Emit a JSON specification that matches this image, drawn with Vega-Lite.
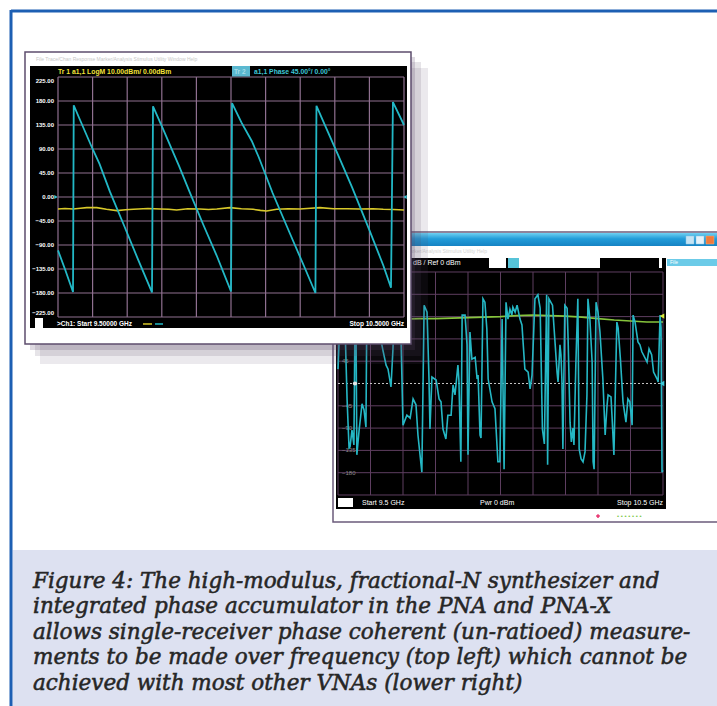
{
  "$schema": "https://vega.github.io/schema/vega-lite/v6.json",
  "width": 706,
  "height": 695,
  "autosize": "none",
  "padding": {"left": 11, "top": 11, "right": 0, "bottom": 0},
  "background": "white",
  "view": {"fill": "white", "stroke": null},
  "config": {"axis": {"disable": true}, "legend": {"disable": true}, "text": {"font": "Liberation Sans"}},
  "data": {"values": [{}]},
  "datasets": {
    "freqTicks": [{"f": 9.5}, {"f": 9.6}, {"f": 9.7}, {"f": 9.8}, {"f": 9.9}, {"f": 10.0}, {"f": 10.1}, {"f": 10.2}, {"f": 10.3}, {"f": 10.4}, {"f": 10.5}],
    "degTicks": [{"d": -225}, {"d": -180}, {"d": -135}, {"d": -90}, {"d": -45}, {"d": 0}, {"d": 45}, {"d": 90}, {"d": 135}, {"d": 180}, {"d": 225}],
    "phase": [
      {"f": 9.5, "d": -100}, {"f": 9.52, "d": -135}, {"f": 9.5434, "d": -178}, {"f": 9.5455, "d": 172},
      {"f": 9.56, "d": 150}, {"f": 9.6, "d": 90}, {"f": 9.62, "d": 62}, {"f": 9.65, "d": 10}, {"f": 9.69, "d": -52},
      {"f": 9.73, "d": -115}, {"f": 9.7717, "d": -179}, {"f": 9.7746, "d": 170}, {"f": 9.8, "d": 133},
      {"f": 9.85, "d": 58}, {"f": 9.88, "d": 10}, {"f": 9.92, "d": -52}, {"f": 9.96, "d": -112}, {"f": 10.0, "d": -177},
      {"f": 10.003, "d": 176}, {"f": 10.03, "d": 140}, {"f": 10.06, "d": 105}, {"f": 10.08, "d": 75}, {"f": 10.12, "d": 8},
      {"f": 10.17, "d": -68}, {"f": 10.21, "d": -128}, {"f": 10.244, "d": -180}, {"f": 10.247, "d": 171},
      {"f": 10.28, "d": 122}, {"f": 10.31, "d": 78}, {"f": 10.35, "d": 18}, {"f": 10.4, "d": -62}, {"f": 10.44, "d": -128},
      {"f": 10.4624, "d": -170}, {"f": 10.468, "d": 178}, {"f": 10.5, "d": 135}
    ],
    "logm": [
      {"f": 9.5, "d": -22.5}, {"f": 9.52, "d": -21.5}, {"f": 9.544, "d": -22.5}, {"f": 9.565, "d": -21}, {"f": 9.583, "d": -20},
      {"f": 9.612, "d": -20}, {"f": 9.64, "d": -23}, {"f": 9.67, "d": -25.6}, {"f": 9.695, "d": -24}, {"f": 9.718, "d": -23.1},
      {"f": 9.76, "d": -21.5}, {"f": 9.795, "d": -22.5}, {"f": 9.82, "d": -23}, {"f": 9.843, "d": -24.4}, {"f": 9.875, "d": -22},
      {"f": 9.91, "d": -22.5}, {"f": 9.935, "d": -23.5}, {"f": 9.959, "d": -22.5}, {"f": 9.997, "d": -20}, {"f": 10.03, "d": -22},
      {"f": 10.064, "d": -23.1}, {"f": 10.085, "d": -25}, {"f": 10.103, "d": -26.3}, {"f": 10.132, "d": -23.1}, {"f": 10.165, "d": -22},
      {"f": 10.199, "d": -22.5}, {"f": 10.23, "d": -21}, {"f": 10.257, "d": -20}, {"f": 10.296, "d": -21.9}, {"f": 10.335, "d": -22},
      {"f": 10.373, "d": -22.5}, {"f": 10.41, "d": -22}, {"f": 10.44, "d": -23.1}, {"f": 10.47, "d": -23.5}, {"f": 10.5, "d": -24.4}
    ],
    "noisy": [
      {"f": 9.5, "d": 29}, {"f": 9.506, "d": 128}, {"f": 9.512, "d": 168}, {"f": 9.522, "d": 108}, {"f": 9.528, "d": -33},
      {"f": 9.534, "d": -130}, {"f": 9.537, "d": -128}, {"f": 9.543, "d": -94}, {"f": 9.549, "d": -124}, {"f": 9.552, "d": 108},
      {"f": 9.555, "d": 158}, {"f": 9.558, "d": -144}, {"f": 9.565, "d": -94}, {"f": 9.574, "d": -41}, {"f": 9.58, "d": -53},
      {"f": 9.586, "d": -88}, {"f": 9.589, "d": 168}, {"f": 9.598, "d": 177}, {"f": 9.608, "d": 128}, {"f": 9.617, "d": 148},
      {"f": 9.629, "d": 98}, {"f": 9.638, "d": 68}, {"f": 9.648, "d": 37}, {"f": 9.654, "d": 29}, {"f": 9.663, "d": -7},
      {"f": 9.669, "d": 68}, {"f": 9.675, "d": 168}, {"f": 9.685, "d": 148}, {"f": 9.694, "d": 88}, {"f": 9.7, "d": -84},
      {"f": 9.712, "d": -64}, {"f": 9.722, "d": -70}, {"f": 9.731, "d": -31}, {"f": 9.74, "d": -43}, {"f": 9.746, "d": -104},
      {"f": 9.758, "d": -179}, {"f": 9.765, "d": 158}, {"f": 9.774, "d": 144}, {"f": 9.78, "d": 9}, {"f": 9.783, "d": -92},
      {"f": 9.789, "d": 13}, {"f": 9.802, "d": 7}, {"f": 9.811, "d": -31}, {"f": 9.817, "d": -37}, {"f": 9.823, "d": -92},
      {"f": 9.832, "d": -112}, {"f": 9.838, "d": -64}, {"f": 9.848, "d": -64}, {"f": 9.854, "d": -3}, {"f": 9.86, "d": -23},
      {"f": 9.869, "d": 37}, {"f": 9.872, "d": 7}, {"f": 9.878, "d": -158}, {"f": 9.882, "d": 138}, {"f": 9.891, "d": 138},
      {"f": 9.897, "d": 78}, {"f": 9.9, "d": -144}, {"f": 9.906, "d": 104}, {"f": 9.912, "d": 49}, {"f": 9.922, "d": 53},
      {"f": 9.928, "d": 9}, {"f": 9.931, "d": 17}, {"f": 9.937, "d": -104}, {"f": 9.94, "d": -110}, {"f": 9.946, "d": 171},
      {"f": 9.952, "d": 164}, {"f": 9.958, "d": 110}, {"f": 9.962, "d": 9}, {"f": 9.974, "d": -37}, {"f": 9.983, "d": -51},
      {"f": 9.992, "d": -158}, {"f": 9.998, "d": -158}, {"f": 10.005, "d": 130}, {"f": 10.011, "d": -173}, {"f": 10.017, "d": 164},
      {"f": 10.023, "d": 130}, {"f": 10.029, "d": 150}, {"f": 10.035, "d": 138}, {"f": 10.038, "d": 154}, {"f": 10.045, "d": 144},
      {"f": 10.051, "d": 158}, {"f": 10.06, "d": 130}, {"f": 10.066, "d": 118}, {"f": 10.075, "d": 29}, {"f": 10.085, "d": 23},
      {"f": 10.091, "d": -11}, {"f": 10.097, "d": 17}, {"f": 10.106, "d": 171}, {"f": 10.115, "d": 179}, {"f": 10.122, "d": 152},
      {"f": 10.129, "d": -92}, {"f": 10.135, "d": -122}, {"f": 10.142, "d": 179}, {"f": 10.145, "d": -164}, {"f": 10.149, "d": 171},
      {"f": 10.16, "d": 158}, {"f": 10.165, "d": 110}, {"f": 10.174, "d": 23}, {"f": 10.177, "d": 3}, {"f": 10.183, "d": 78},
      {"f": 10.186, "d": 58}, {"f": 10.189, "d": 7}, {"f": 10.192, "d": -132}, {"f": 10.198, "d": 158}, {"f": 10.205, "d": 152},
      {"f": 10.208, "d": 90}, {"f": 10.214, "d": -78}, {"f": 10.218, "d": -118}, {"f": 10.223, "d": -90}, {"f": 10.226, "d": -124},
      {"f": 10.232, "d": 43}, {"f": 10.238, "d": 171}, {"f": 10.242, "d": -132}, {"f": 10.248, "d": -152}, {"f": 10.254, "d": -158},
      {"f": 10.26, "d": -138}, {"f": 10.266, "d": -23}, {"f": 10.269, "d": 171}, {"f": 10.275, "d": 130}, {"f": 10.282, "d": 43},
      {"f": 10.285, "d": -158}, {"f": 10.288, "d": -173}, {"f": 10.294, "d": 164}, {"f": 10.3, "d": 144}, {"f": 10.306, "d": 104},
      {"f": 10.315, "d": 9}, {"f": 10.322, "d": -104}, {"f": 10.328, "d": -43}, {"f": 10.331, "d": -23}, {"f": 10.34, "d": -27},
      {"f": 10.343, "d": -64}, {"f": 10.349, "d": -144}, {"f": 10.358, "d": 124}, {"f": 10.362, "d": 112}, {"f": 10.369, "d": 49},
      {"f": 10.377, "d": -37}, {"f": 10.386, "d": -78}, {"f": 10.392, "d": -31}, {"f": 10.398, "d": -37}, {"f": 10.405, "d": -84},
      {"f": 10.408, "d": 138}, {"f": 10.414, "d": 124}, {"f": 10.423, "d": 84}, {"f": 10.429, "d": 78}, {"f": 10.435, "d": 64},
      {"f": 10.445, "d": 51}, {"f": 10.451, "d": 43}, {"f": 10.457, "d": 70}, {"f": 10.465, "d": 58}, {"f": 10.471, "d": 23},
      {"f": 10.482, "d": 9}, {"f": 10.485, "d": 3}, {"f": 10.491, "d": 138}, {"f": 10.494, "d": 112}, {"f": 10.497, "d": -179},
      {"f": 10.5, "d": -175}
    ],
    "green": [
      {"f": 9.5, "d": 126}, {"f": 9.55, "d": 127}, {"f": 9.6, "d": 128}, {"f": 9.65, "d": 129}, {"f": 9.7, "d": 130},
      {"f": 9.75, "d": 131}, {"f": 9.8, "d": 131}, {"f": 9.85, "d": 132}, {"f": 9.9, "d": 133}, {"f": 9.95, "d": 134},
      {"f": 10.0, "d": 135}, {"f": 10.05, "d": 137}, {"f": 10.1, "d": 138}, {"f": 10.15, "d": 137}, {"f": 10.2, "d": 136},
      {"f": 10.25, "d": 134}, {"f": 10.3, "d": 131}, {"f": 10.35, "d": 128}, {"f": 10.4, "d": 126}, {"f": 10.45, "d": 124},
      {"f": 10.5, "d": 124}
    ],
    "caption": [
      {"line": 1, "text": "Figure 4: The high-modulus, fractional-N synthesizer and\nintegrated phase accumulator in the PNA and PNA-X\nallows single-receiver phase coherent (un-ratioed) measure-\nments to be made over frequency (top left) which cannot be\nachieved with most other VNAs (lower right)"}
    ]
  },
  "resolve": {"scale": {"x": "independent", "y": "independent"}},
  "layer": [
    {
      "layer": [
        {"mark": {"type": "rect", "fill": "white", "stroke": "#6b5b7b", "strokeWidth": 1.5},
         "encoding": {"x": {"datum": 9.48462, "scale": {"domain": [8.493846, 10.666154], "nice": false, "zero": false}}, "x2": {"datum": 10.7},
                      "y": {"datum": 305.7, "scale": {"domain": [-650.785, 751.68], "nice": false, "zero": false}}, "y2": {"datum": -279.5}}},
        {"mark": {"type": "rect", "fill": {"gradient": "linear", "x1": 0, "y1": 0, "x2": 0, "y2": 1, "stops": [{"offset": 0, "color": "#6fd0f2"}, {"offset": 0.45, "color": "#229cd9"}, {"offset": 1, "color": "#1683c4"}]}},
         "encoding": {"x": {"datum": 9.48462, "scale": {"domain": [8.493846, 10.666154], "nice": false, "zero": false}}, "x2": {"datum": 10.7},
                      "y": {"datum": 303.7, "scale": {"domain": [-650.785, 751.68], "nice": false, "zero": false}}, "y2": {"datum": 277.5}}},
        {"mark": {"type": "rect", "fill": "#c5e3f3", "stroke": "#8fc4e2", "strokeWidth": 0.5},
         "encoding": {"x": {"datum": 10.57077, "scale": {"domain": [8.493846, 10.666154], "nice": false, "zero": false}}, "x2": {"datum": 10.59538},
                      "y": {"datum": 297.6, "scale": {"domain": [-650.785, 751.68], "nice": false, "zero": false}}, "y2": {"datum": 281.5}}},
        {"mark": {"type": "rect", "fill": "#e6f1f8", "stroke": "#8fc4e2", "strokeWidth": 0.5},
         "encoding": {"x": {"datum": 10.60154, "scale": {"domain": [8.493846, 10.666154], "nice": false, "zero": false}}, "x2": {"datum": 10.62615},
                      "y": {"datum": 297.6, "scale": {"domain": [-650.785, 751.68], "nice": false, "zero": false}}, "y2": {"datum": 281.5}}},
        {"mark": {"type": "rect", "fill": "#f07a3c", "stroke": "#f5b080", "strokeWidth": 0.5},
         "encoding": {"x": {"datum": 10.63231, "scale": {"domain": [8.493846, 10.666154], "nice": false, "zero": false}}, "x2": {"datum": 10.65692},
                      "y": {"datum": 297.6, "scale": {"domain": [-650.785, 751.68], "nice": false, "zero": false}}, "y2": {"datum": 281.5}}},
        {"mark": {"type": "text", "text": "File   Trace/Chan   Response   Marker/Analysis   Stimulus   Utility   Help", "align": "left", "baseline": "middle", "fontSize": 5, "color": "#d4d4d4"},
         "encoding": {"x": {"datum": 9.52154, "scale": {"domain": [8.493846, 10.666154], "nice": false, "zero": false}},
                      "y": {"datum": 267.4, "scale": {"domain": [-650.785, 751.68], "nice": false, "zero": false}}}},
        {"mark": {"type": "rect", "fill": "black"},
         "encoding": {"x": {"datum": 9.49385, "scale": {"domain": [8.493846, 10.666154], "nice": false, "zero": false}}, "x2": {"datum": 10.50923},
                      "y": {"datum": 253.25, "scale": {"domain": [-650.785, 751.68], "nice": false, "zero": false}}, "y2": {"datum": -253.25}}},
        {"mark": {"type": "rect", "fill": "white"},
         "encoding": {"x": {"datum": 9.96462, "scale": {"domain": [8.493846, 10.666154], "nice": false, "zero": false}}, "x2": {"datum": 10.01692},
                      "y": {"datum": 253.25, "scale": {"domain": [-650.785, 751.68], "nice": false, "zero": false}}, "y2": {"datum": 233.07}}},
        {"mark": {"type": "rect", "fill": "#56c3d8"},
         "encoding": {"x": {"datum": 10.02308, "scale": {"domain": [8.493846, 10.666154], "nice": false, "zero": false}}, "x2": {"datum": 10.05692},
                      "y": {"datum": 253.25, "scale": {"domain": [-650.785, 751.68], "nice": false, "zero": false}}, "y2": {"datum": 233.07}}},
        {"mark": {"type": "rect", "fill": "white"},
         "encoding": {"x": {"datum": 10.05692, "scale": {"domain": [8.493846, 10.666154], "nice": false, "zero": false}}, "x2": {"datum": 10.30615},
                      "y": {"datum": 253.25, "scale": {"domain": [-650.785, 751.68], "nice": false, "zero": false}}, "y2": {"datum": 233.07}}},
        {"mark": {"type": "rect", "fill": "white"},
         "encoding": {"x": {"datum": 10.48769, "scale": {"domain": [8.493846, 10.666154], "nice": false, "zero": false}}, "x2": {"datum": 10.49692},
                      "y": {"datum": 253.25, "scale": {"domain": [-650.785, 751.68], "nice": false, "zero": false}}, "y2": {"datum": 233.07}}},
        {"mark": {"type": "text", "text": "dB /  Ref 0 dBm", "align": "left", "baseline": "middle", "fontSize": 7, "color": "white"},
         "encoding": {"x": {"datum": 9.73077, "scale": {"domain": [8.493846, 10.666154], "nice": false, "zero": false}},
                      "y": {"datum": 242.2, "scale": {"domain": [-650.785, 751.68], "nice": false, "zero": false}}}},
        {"mark": {"type": "rect", "fill": "#6ccbe8"},
         "encoding": {"x": {"datum": 10.51231, "scale": {"domain": [8.493846, 10.666154], "nice": false, "zero": false}}, "x2": {"datum": 10.7},
                      "y": {"datum": 251.2, "scale": {"domain": [-650.785, 751.68], "nice": false, "zero": false}}, "y2": {"datum": 237.1}}},
        {"mark": {"type": "text", "text": "File", "align": "left", "baseline": "middle", "fontSize": 5, "color": "white"},
         "encoding": {"x": {"datum": 10.52154, "scale": {"domain": [8.493846, 10.666154], "nice": false, "zero": false}},
                      "y": {"datum": 244.2, "scale": {"domain": [-650.785, 751.68], "nice": false, "zero": false}}}},
        {"data": {"name": "freqTicks"}, "mark": {"type": "rule", "color": "#5e3e60", "strokeWidth": 1},
         "encoding": {"x": {"field": "f", "type": "quantitative", "scale": {"domain": [8.493846, 10.666154], "nice": false, "zero": false}},
                      "y": {"datum": -225, "scale": {"domain": [-650.785, 751.68], "nice": false, "zero": false}}, "y2": {"datum": 225}}},
        {"data": {"name": "degTicks"}, "transform": [{"filter": "datum.d != 0"}], "mark": {"type": "rule", "color": "#5e3e60", "strokeWidth": 1},
         "encoding": {"y": {"field": "d", "type": "quantitative", "scale": {"domain": [-650.785, 751.68], "nice": false, "zero": false}},
                      "x": {"datum": 9.5, "scale": {"domain": [8.493846, 10.666154], "nice": false, "zero": false}}, "x2": {"datum": 10.5}}},
        {"mark": {"type": "rule", "color": "#c4c4c4", "strokeWidth": 1, "strokeDash": [2, 2]},
         "encoding": {"y": {"datum": 0, "scale": {"domain": [-650.785, 751.68], "nice": false, "zero": false}},
                      "x": {"datum": 9.5, "scale": {"domain": [8.493846, 10.666154], "nice": false, "zero": false}}, "x2": {"datum": 10.5}}},
        {"data": {"name": "degTicks"}, "transform": [{"filter": "datum.d != 0 && datum.d > -225 && datum.d < 225"}],
         "mark": {"type": "text", "align": "left", "baseline": "middle", "dx": 4, "fontSize": 6, "color": "#8a8a8a"},
         "encoding": {"y": {"field": "d", "type": "quantitative", "scale": {"domain": [-650.785, 751.68], "nice": false, "zero": false}},
                      "x": {"datum": 9.5, "scale": {"domain": [8.493846, 10.666154], "nice": false, "zero": false}},
                      "text": {"field": "d", "type": "quantitative", "format": "d"}}},
        {"data": {"name": "green"}, "mark": {"type": "line", "color": "#86c43c", "strokeWidth": 1.6},
         "encoding": {"x": {"field": "f", "type": "quantitative", "scale": {"domain": [8.493846, 10.666154], "nice": false, "zero": false}},
                      "y": {"field": "d", "type": "quantitative", "scale": {"domain": [-650.785, 751.68], "nice": false, "zero": false}}}},
        {"data": {"name": "noisy"}, "mark": {"type": "line", "color": "#25b7c4", "strokeWidth": 1.6},
         "encoding": {"x": {"field": "f", "type": "quantitative", "scale": {"domain": [8.493846, 10.666154], "nice": false, "zero": false}},
                      "y": {"field": "d", "type": "quantitative", "scale": {"domain": [-650.785, 751.68], "nice": false, "zero": false}}}},
        {"mark": {"type": "point", "filled": true, "color": "#e8e8e8", "size": 18, "opacity": 1},
         "encoding": {"x": {"datum": 9.55231, "scale": {"domain": [8.493846, 10.666154], "nice": false, "zero": false}},
                      "y": {"datum": 0, "scale": {"domain": [-650.785, 751.68], "nice": false, "zero": false}}}},
        {"mark": {"type": "point", "filled": true, "shape": "triangle-left", "color": "#3cc8d8", "size": 28, "opacity": 1},
         "encoding": {"x": {"datum": 10.49692, "scale": {"domain": [8.493846, 10.666154], "nice": false, "zero": false}},
                      "y": {"datum": 0, "scale": {"domain": [-650.785, 751.68], "nice": false, "zero": false}}}},
        {"mark": {"type": "point", "filled": true, "shape": "triangle-left", "color": "#d8e83a", "size": 28, "opacity": 1},
         "encoding": {"x": {"datum": 10.49692, "scale": {"domain": [8.493846, 10.666154], "nice": false, "zero": false}},
                      "y": {"datum": 136, "scale": {"domain": [-650.785, 751.68], "nice": false, "zero": false}}}},
        {"mark": {"type": "rect", "fill": "white"},
         "encoding": {"x": {"datum": 9.5, "scale": {"domain": [8.493846, 10.666154], "nice": false, "zero": false}}, "x2": {"datum": 9.54615},
                      "y": {"datum": -231.1, "scale": {"domain": [-650.785, 751.68], "nice": false, "zero": false}}, "y2": {"datum": -249.2}}},
        {"mark": {"type": "text", "text": "Start  9.5 GHz", "align": "left", "baseline": "middle", "fontSize": 7, "color": "white"},
         "encoding": {"x": {"datum": 9.57385, "scale": {"domain": [8.493846, 10.666154], "nice": false, "zero": false}},
                      "y": {"datum": -241.1, "scale": {"domain": [-650.785, 751.68], "nice": false, "zero": false}}}},
        {"mark": {"type": "text", "text": "Pwr  0 dBm", "align": "left", "baseline": "middle", "fontSize": 7, "color": "white"},
         "encoding": {"x": {"datum": 9.93692, "scale": {"domain": [8.493846, 10.666154], "nice": false, "zero": false}},
                      "y": {"datum": -241.1, "scale": {"domain": [-650.785, 751.68], "nice": false, "zero": false}}}},
        {"mark": {"type": "text", "text": "Stop  10.5 GHz", "align": "right", "baseline": "middle", "fontSize": 7, "color": "white"},
         "encoding": {"x": {"datum": 10.5, "scale": {"domain": [8.493846, 10.666154], "nice": false, "zero": false}},
                      "y": {"datum": -241.1, "scale": {"domain": [-650.785, 751.68], "nice": false, "zero": false}}}},
        {"mark": {"type": "point", "filled": true, "shape": "cross", "color": "#e8326e", "size": 14, "opacity": 1},
         "encoding": {"x": {"datum": 10.3, "scale": {"domain": [8.493846, 10.666154], "nice": false, "zero": false}},
                      "y": {"datum": -267.4, "scale": {"domain": [-650.785, 751.68], "nice": false, "zero": false}}}},
        {"mark": {"type": "text", "text": "• • • • • • •", "align": "left", "baseline": "middle", "fontSize": 6, "color": "#7cc84a"},
         "encoding": {"x": {"datum": 10.35846, "scale": {"domain": [8.493846, 10.666154], "nice": false, "zero": false}},
                      "y": {"datum": -267.4, "scale": {"domain": [-650.785, 751.68], "nice": false, "zero": false}}}}
      ]
    },
    {
      "layer": [
        {"mark": {"type": "rect", "fill": "#5a4868", "opacity": 0.12},
         "encoding": {"x": {"datum": 9.44798, "scale": {"domain": [9.364162, 11.404624], "nice": false, "zero": false}}, "x2": {"datum": 10.56936},
                      "y": {"datum": 241.875, "scale": {"domain": [-954.375, 348.75], "nice": false, "zero": false}}, "y2": {"datum": -313.125}}},
        {"mark": {"type": "rect", "fill": "#5a4868", "opacity": 0.15},
         "encoding": {"x": {"datum": 9.43353, "scale": {"domain": [9.364162, 11.404624], "nice": false, "zero": false}}, "x2": {"datum": 10.54913},
                      "y": {"datum": 253.125, "scale": {"domain": [-954.375, 348.75], "nice": false, "zero": false}}, "y2": {"datum": -298.125}}},
        {"mark": {"type": "rect", "fill": "#5a4868", "opacity": 0.2},
         "encoding": {"x": {"datum": 9.41908, "scale": {"domain": [9.364162, 11.404624], "nice": false, "zero": false}}, "x2": {"datum": 10.53179},
                      "y": {"datum": 262.5, "scale": {"domain": [-954.375, 348.75], "nice": false, "zero": false}}, "y2": {"datum": -286.875}}},
        {"mark": {"type": "rect", "fill": "white", "stroke": "#5d4d6d", "strokeWidth": 1.5},
         "encoding": {"x": {"datum": 9.40462, "scale": {"domain": [9.364162, 11.404624], "nice": false, "zero": false}}, "x2": {"datum": 10.52023},
                      "y": {"datum": 271.875, "scale": {"domain": [-954.375, 348.75], "nice": false, "zero": false}}, "y2": {"datum": -275.625}}},
        {"mark": {"type": "text", "text": "File   Trace/Chan   Response   Marker/Analysis   Stimulus   Utility   Window   Help", "align": "left", "baseline": "middle", "fontSize": 5, "color": "#c8c8c8"},
         "encoding": {"x": {"datum": 9.43642, "scale": {"domain": [9.364162, 11.404624], "nice": false, "zero": false}},
                      "y": {"datum": 258.75, "scale": {"domain": [-954.375, 348.75], "nice": false, "zero": false}}}},
        {"mark": {"type": "rect", "fill": "black"},
         "encoding": {"x": {"datum": 9.41908, "scale": {"domain": [9.364162, 11.404624], "nice": false, "zero": false}}, "x2": {"datum": 10.50867},
                      "y": {"datum": 245.625, "scale": {"domain": [-954.375, 348.75], "nice": false, "zero": false}}, "y2": {"datum": -245.625}}},
        {"data": {"name": "freqTicks"}, "mark": {"type": "rule", "color": "#8f7090", "strokeWidth": 1.2},
         "encoding": {"x": {"field": "f", "type": "quantitative", "scale": {"domain": [9.364162, 11.404624], "nice": false, "zero": false}},
                      "y": {"datum": -225, "scale": {"domain": [-954.375, 348.75], "nice": false, "zero": false}}, "y2": {"datum": 225}}},
        {"data": {"name": "degTicks"}, "mark": {"type": "rule", "color": "#8f7090", "strokeWidth": 1.2},
         "encoding": {"y": {"field": "d", "type": "quantitative", "scale": {"domain": [-954.375, 348.75], "nice": false, "zero": false}},
                      "x": {"datum": 9.5, "scale": {"domain": [9.364162, 11.404624], "nice": false, "zero": false}}, "x2": {"datum": 10.5}}},
        {"data": {"name": "degTicks"}, "transform": [{"filter": "datum.d > -225 && datum.d < 225"}],
         "mark": {"type": "text", "align": "right", "baseline": "middle", "dx": -4, "fontSize": 6, "fontWeight": "bold", "color": "white"},
         "encoding": {"y": {"field": "d", "type": "quantitative", "scale": {"domain": [-954.375, 348.75], "nice": false, "zero": false}},
                      "x": {"datum": 9.5, "scale": {"domain": [9.364162, 11.404624], "nice": false, "zero": false}},
                      "text": {"field": "d", "type": "quantitative", "format": ".2f"}}},
        {"data": {"name": "degTicks"}, "transform": [{"filter": "datum.d == 225"}],
         "mark": {"type": "text", "align": "right", "baseline": "top", "dx": -4, "dy": 1, "fontSize": 6, "fontWeight": "bold", "color": "white"},
         "encoding": {"y": {"field": "d", "type": "quantitative", "scale": {"domain": [-954.375, 348.75], "nice": false, "zero": false}},
                      "x": {"datum": 9.5, "scale": {"domain": [9.364162, 11.404624], "nice": false, "zero": false}},
                      "text": {"field": "d", "type": "quantitative", "format": ".2f"}}},
        {"data": {"name": "degTicks"}, "transform": [{"filter": "datum.d == -225"}],
         "mark": {"type": "text", "align": "right", "baseline": "bottom", "dx": -4, "dy": -1, "fontSize": 6, "fontWeight": "bold", "color": "white"},
         "encoding": {"y": {"field": "d", "type": "quantitative", "scale": {"domain": [-954.375, 348.75], "nice": false, "zero": false}},
                      "x": {"datum": 9.5, "scale": {"domain": [9.364162, 11.404624], "nice": false, "zero": false}},
                      "text": {"field": "d", "type": "quantitative", "format": ".2f"}}},
        {"mark": {"type": "text", "text": "Tr 1   a1,1 LogM 10.00dBm/  0.00dBm", "align": "left", "baseline": "middle", "fontSize": 6.8, "fontWeight": "bold", "color": "#f2e23a"},
         "encoding": {"x": {"datum": 9.5, "scale": {"domain": [9.364162, 11.404624], "nice": false, "zero": false}},
                      "y": {"datum": 235.3, "scale": {"domain": [-954.375, 348.75], "nice": false, "zero": false}}}},
        {"mark": {"type": "rect", "fill": "#5ab8d0"},
         "encoding": {"x": {"datum": 10.00289, "scale": {"domain": [9.364162, 11.404624], "nice": false, "zero": false}}, "x2": {"datum": 10.05491},
                      "y": {"datum": 245.625, "scale": {"domain": [-954.375, 348.75], "nice": false, "zero": false}}, "y2": {"datum": 225.94}}},
        {"mark": {"type": "text", "text": "Tr 2", "align": "left", "baseline": "middle", "fontSize": 6.5, "fontWeight": "bold", "color": "#a6dde9"},
         "encoding": {"x": {"datum": 10.0087, "scale": {"domain": [9.364162, 11.404624], "nice": false, "zero": false}},
                      "y": {"datum": 235.3, "scale": {"domain": [-954.375, 348.75], "nice": false, "zero": false}}}},
        {"mark": {"type": "text", "text": "a1,1 Phase 45.00°/  0.00°", "align": "left", "baseline": "middle", "fontSize": 6.8, "fontWeight": "bold", "color": "#3ec6d6"},
         "encoding": {"x": {"datum": 10.06647, "scale": {"domain": [9.364162, 11.404624], "nice": false, "zero": false}},
                      "y": {"datum": 235.3, "scale": {"domain": [-954.375, 348.75], "nice": false, "zero": false}}}},
        {"data": {"name": "logm"}, "mark": {"type": "line", "color": "#d8c82a", "strokeWidth": 1.6},
         "encoding": {"x": {"field": "f", "type": "quantitative", "scale": {"domain": [9.364162, 11.404624], "nice": false, "zero": false}},
                      "y": {"field": "d", "type": "quantitative", "scale": {"domain": [-954.375, 348.75], "nice": false, "zero": false}}}},
        {"data": {"name": "phase"}, "mark": {"type": "line", "color": "#22b8c6", "strokeWidth": 1.8},
         "encoding": {"x": {"field": "f", "type": "quantitative", "scale": {"domain": [9.364162, 11.404624], "nice": false, "zero": false}},
                      "y": {"field": "d", "type": "quantitative", "scale": {"domain": [-954.375, 348.75], "nice": false, "zero": false}}}},
        {"mark": {"type": "point", "filled": true, "shape": "triangle-right", "color": "#3ec6d6", "size": 16, "opacity": 1},
         "encoding": {"x": {"datum": 9.4942, "scale": {"domain": [9.364162, 11.404624], "nice": false, "zero": false}},
                      "y": {"datum": 0, "scale": {"domain": [-954.375, 348.75], "nice": false, "zero": false}}}},
        {"mark": {"type": "point", "filled": true, "shape": "triangle-left", "color": "#3ec6d6", "size": 16, "opacity": 1},
         "encoding": {"x": {"datum": 10.5029, "scale": {"domain": [9.364162, 11.404624], "nice": false, "zero": false}},
                      "y": {"datum": 0, "scale": {"domain": [-954.375, 348.75], "nice": false, "zero": false}}}},
        {"mark": {"type": "rect", "fill": "white"},
         "encoding": {"x": {"datum": 9.43353, "scale": {"domain": [9.364162, 11.404624], "nice": false, "zero": false}}, "x2": {"datum": 9.45665},
                      "y": {"datum": -226.875, "scale": {"domain": [-954.375, 348.75], "nice": false, "zero": false}}, "y2": {"datum": -245.625}}},
        {"mark": {"type": "text", "text": ">Ch1: Start  9.50000 GHz", "align": "left", "baseline": "middle", "fontSize": 6.5, "fontWeight": "bold", "color": "white"},
         "encoding": {"x": {"datum": 9.4971, "scale": {"domain": [9.364162, 11.404624], "nice": false, "zero": false}},
                      "y": {"datum": -238.1, "scale": {"domain": [-954.375, 348.75], "nice": false, "zero": false}}}},
        {"mark": {"type": "rule", "color": "#d8c82a", "strokeWidth": 1.5},
         "encoding": {"x": {"datum": 9.74566, "scale": {"domain": [9.364162, 11.404624], "nice": false, "zero": false}}, "x2": {"datum": 9.77168},
                      "y": {"datum": -238.1, "scale": {"domain": [-954.375, 348.75], "nice": false, "zero": false}}}},
        {"mark": {"type": "rule", "color": "#22b8c6", "strokeWidth": 1.5},
         "encoding": {"x": {"datum": 9.78035, "scale": {"domain": [9.364162, 11.404624], "nice": false, "zero": false}}, "x2": {"datum": 9.80347},
                      "y": {"datum": -238.1, "scale": {"domain": [-954.375, 348.75], "nice": false, "zero": false}}}},
        {"mark": {"type": "text", "text": "Stop  10.5000 GHz", "align": "right", "baseline": "middle", "fontSize": 6.5, "fontWeight": "bold", "color": "white"},
         "encoding": {"x": {"datum": 10.5, "scale": {"domain": [9.364162, 11.404624], "nice": false, "zero": false}},
                      "y": {"datum": -238.1, "scale": {"domain": [-954.375, 348.75], "nice": false, "zero": false}}}},
        {"mark": {"type": "rect", "fill": "#dde1f1"},
         "encoding": {"x": {"datum": 9.3685, "scale": {"domain": [9.364162, 11.404624], "nice": false, "zero": false}}, "x2": {"datum": 11.5},
                      "y": {"datum": -661.875, "scale": {"domain": [-954.375, 348.75], "nice": false, "zero": false}}, "y2": {"datum": -970}}},
        {"mark": {"type": "rule", "color": "#1d5fb3", "strokeWidth": 3},
         "encoding": {"x": {"datum": 9.364162, "scale": {"domain": [9.364162, 11.404624], "nice": false, "zero": false}},
                      "y": {"datum": 350.4, "scale": {"domain": [-954.375, 348.75], "nice": false, "zero": false}}, "y2": {"datum": -970}}},
        {"mark": {"type": "rule", "color": "#1d5fb3", "strokeWidth": 3},
         "encoding": {"y": {"datum": 348.75, "scale": {"domain": [-954.375, 348.75], "nice": false, "zero": false}},
                      "x": {"datum": 9.364162, "scale": {"domain": [9.364162, 11.404624], "nice": false, "zero": false}}, "x2": {"datum": 11.5}}}
      ]
    },
    {
      "data": {"name": "caption"},
      "mark": {"type": "text", "align": "left", "baseline": "alphabetic", "lineBreak": "\n", "lineHeight": 25.4, "font": "DejaVu Serif", "fontStyle": "italic", "fontWeight": "normal", "fontSize": 21.5, "color": "#262626", "stroke": "#262626", "strokeWidth": 0.55},
      "encoding": {
        "x": {"datum": 9.42775, "scale": {"domain": [9.364162, 11.404624], "nice": false, "zero": false}},
        "y": {"field": "line", "type": "quantitative", "scale": {"domain": [-21.6275, 5.6274], "reverse": true, "nice": false, "zero": false}},
        "text": {"field": "text", "type": "nominal"}
      }
    }
  ]
}
